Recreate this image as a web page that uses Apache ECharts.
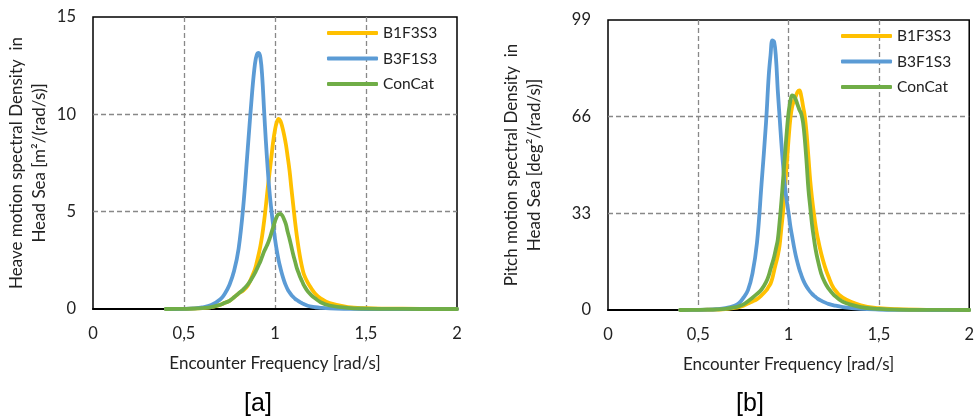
<!DOCTYPE html>
<html>
<head>
<meta charset="utf-8">
<script src="https://cdn.jsdelivr.net/npm/echarts@6/dist/echarts.min.js"></script>
<style>
  html, body { margin: 0; padding: 0; background: #fff; }
  #main { width: 977px; height: 416px; }
</style>
</head>
<body>
<div id="main"></div>
<script>
// encounter frequency [rad/s]
var freq = [0.4, 0.5, 0.55, 0.6, 0.65, 0.7, 0.725, 0.75, 0.775, 0.8, 0.825, 0.85, 0.875, 0.89, 0.9,
  0.91, 0.92, 0.93, 0.94, 0.95, 0.96, 0.97, 0.98, 0.99, 1.0, 1.01, 1.02, 1.03, 1.04, 1.05, 1.06,
  1.07, 1.08, 1.09, 1.1, 1.11, 1.12, 1.13, 1.14, 1.15, 1.16, 1.18, 1.2, 1.22, 1.25, 1.3, 1.4,
  1.5, 1.6, 1.8, 2.0];

// heave spectral density [m2/(rad/s)]
var heaveB1F3S3 = [0, 0.01, 0.02, 0.05, 0.1, 0.22, 0.32, 0.42, 0.6, 0.8, 0.95, 1.2, 1.7, 2.05, 2.4,
  2.8, 3.25, 3.8, 4.5, 5.3, 6.2, 7.0, 7.8, 8.6, 9.2, 9.6, 9.76, 9.65, 9.35, 8.95, 8.45,
  7.8, 7.1, 6.2, 5.35, 4.5, 3.75, 3.1, 2.55, 2.1, 1.75, 1.35, 1.05, 0.8, 0.55, 0.3, 0.1,
  0.04, 0.02, 0.01, 0];
var heaveB3F1S3 = [0, 0.01, 0.03, 0.08, 0.2, 0.5, 0.8, 1.25, 1.95, 3.1, 5.2, 8.2, 11.2, 12.6, 13.05,
  13.15, 12.9, 11.9, 10.2, 8.6, 7.2, 6.0, 5.1, 4.3, 3.6, 3.0, 2.5, 2.1, 1.75, 1.45, 1.2,
  1.0, 0.85, 0.72, 0.62, 0.53, 0.46, 0.4, 0.34, 0.29, 0.24, 0.17, 0.12, 0.09, 0.06, 0.03, 0.01,
  0, 0, 0, 0];
var heaveConCat = [0, 0.01, 0.02, 0.05, 0.1, 0.22, 0.32, 0.42, 0.6, 0.8, 1.0, 1.25, 1.6, 1.85, 2.05,
  2.25, 2.45, 2.7, 2.95, 3.15, 3.35, 3.6, 3.9, 4.2, 4.5, 4.75, 4.87, 4.88, 4.8, 4.6, 4.35,
  3.95, 3.6, 3.2, 2.8, 2.45, 2.1, 1.85, 1.6, 1.4, 1.2, 0.9, 0.7, 0.55, 0.35, 0.18, 0.06,
  0.02, 0.01, 0, 0];

// pitch spectral density [deg2/(rad/s)]
var pitchB1F3S3 = [0, 0.04, 0.08, 0.15, 0.3, 0.7, 1.0, 1.5, 2.2, 2.9, 3.7, 5.0, 6.6, 8.0, 9.0,
  10.8, 13.5, 16, 18.5, 22, 28, 34, 42, 50, 58.5, 65.5, 69.5, 71.5, 73, 74.5, 75,
  73, 69.5, 66, 60, 52, 44, 38, 33, 28.5, 25, 19.4, 15, 11.5, 7.4, 4.2, 1.6,
  0.6, 0.25, 0.05, 0];
var pitchB3F1S3 = [0, 0.05, 0.1, 0.25, 0.6, 1.4, 2.3, 4.2, 6.8, 12.5, 23, 43, 64, 80, 87,
  92, 91.5, 86, 75, 66, 57, 49, 42, 37, 33, 28.5, 25, 21.5, 18.5, 16, 13.8,
  12, 10.3, 9, 7.9, 7.0, 6.2, 5.5, 4.9, 4.4, 3.9, 3.2, 2.6, 2.1, 1.6, 1.0, 0.4,
  0.15, 0.05, 0, 0];
var pitchConCat = [0, 0.05, 0.1, 0.2, 0.4, 0.9, 1.3, 1.9, 3.0, 4.2, 5.5, 7.0, 9.5, 11.8, 14,
  16, 18.2, 21, 24, 30, 37, 45, 53, 61, 67.5, 71.5, 73.3, 73.0, 71.8, 70, 68.3,
  67, 64, 58, 50, 41, 35, 29, 24.5, 20.5, 17.5, 12.5, 9.5, 7.4, 5.2, 2.8, 1.0,
  0.4, 0.15, 0.03, 0];

var seriesNames = ['B1F3S3', 'B3F1S3', 'ConCat'];
var colors = ['#FFC000', '#5B9BD5', '#70AD47'];
var xTicks = [0, 0.5, 1, 1.5, 2];

var FONT = 'Lato';

function pairs(ys) {
  return freq.map(function (f, i) { return [f, ys[i]]; });
}

function commaFmt(v) {
  return String(v).replace('.', ',');
}

function xAxisFor(idx) {
  return {
    type: 'value',
    gridIndex: idx,
    min: xTicks[0],
    max: xTicks[xTicks.length - 1],
    interval: 0.5,
    name: 'Encounter Frequency [rad/s]',
    nameLocation: 'middle',
    nameGap: 46,
    nameTextStyle: { fontFamily: FONT, fontSize: 17, color: '#222' },
    axisLine: { show: true, lineStyle: { color: '#000', width: 2 } },
    axisTick: { show: false },
    axisLabel: { fontFamily: FONT, fontSize: 16.5, color: '#222', margin: 16, formatter: commaFmt },
    splitLine: {
      show: true, showMinLine: false, showMaxLine: false,
      lineStyle: { color: '#888', width: 1.3, type: [5, 3] }
    }
  };
}

function yAxisFor(idx, max, step, name, gap) {
  return {
    type: 'value',
    gridIndex: idx,
    min: 0,
    max: max,
    interval: step,
    name: name,
    nameLocation: 'middle',
    nameRotate: 90,
    nameGap: gap,
    nameTextStyle: { fontFamily: FONT, fontSize: 17, color: '#222', lineHeight: 23 },
    axisLine: { show: false },
    axisTick: { show: false },
    axisLabel: { fontFamily: FONT, fontSize: 16.5, color: '#222', margin: 17 },
    splitLine: {
      show: true, showMinLine: false, showMaxLine: false,
      lineStyle: { color: '#888', width: 1.3, type: [5, 3] }
    }
  };
}

function lineSeries(name, i, xi, ys) {
  return {
    name: name,
    type: 'line',
    xAxisIndex: xi,
    yAxisIndex: xi,
    data: pairs(ys),
    smooth: 0.4,
    symbol: 'none',
    showSymbol: false,
    color: colors[i],
    lineStyle: { width: 3.8, color: colors[i], cap: 'round', join: 'round' }
  };
}

function legendAt(left, top) {
  return {
    data: seriesNames,
    orient: 'vertical',
    left: left,
    top: top,
    padding: 0,
    icon: 'roundRect',
    itemWidth: 51,
    itemHeight: 4,
    itemGap: 9.5,
    selectedMode: false,
    textStyle: { fontFamily: FONT, fontSize: 15.5, color: '#222', lineHeight: 16 }
  };
}

var chart = echarts.init(document.getElementById('main'), null, { renderer: 'canvas' });

var option = {
  backgroundColor: '#fff',
  animation: false,
  grid: [
    { left: 93, top: 17, width: 364, height: 292, show: true, borderColor: '#000', borderWidth: 1.5, backgroundColor: 'transparent' },
    { left: 608, top: 20, width: 371, height: 290, show: true, borderColor: '#000', borderWidth: 1.5, backgroundColor: 'transparent' }
  ],
  legend: [legendAt(327, 25), legendAt(841, 28)],
  xAxis: [xAxisFor(0), xAxisFor(1)],
  yAxis: [
    yAxisFor(0, 15, 5, 'Heave motion spectral Density  in\nHead Sea [m\u00B2/(rad/s)]', 42),
    yAxisFor(1, 99, 33, 'Pitch motion spectral Density  in\nHead Sea [deg\u00B2/(rad/s)]', 62)
  ],
  graphic: [
    { type: 'text', x: 258, y: 404, style: { text: '[a]', font: '25px "Liberation Sans", Arial', fill: '#000', align: 'center', verticalAlign: 'middle' } },
    { type: 'text', x: 750, y: 404, style: { text: '[b]', font: '25px "Liberation Sans", Arial', fill: '#000', align: 'center', verticalAlign: 'middle' } }
  ],
  series: [
    lineSeries(seriesNames[0], 0, 0, heaveB1F3S3),
    lineSeries(seriesNames[1], 1, 0, heaveB3F1S3),
    lineSeries(seriesNames[2], 2, 0, heaveConCat),
    lineSeries(seriesNames[0], 0, 1, pitchB1F3S3),
    lineSeries(seriesNames[1], 1, 1, pitchB3F1S3),
    lineSeries(seriesNames[2], 2, 1, pitchConCat)
  ]
};

chart.setOption(option);
</script>
</body>
</html>
